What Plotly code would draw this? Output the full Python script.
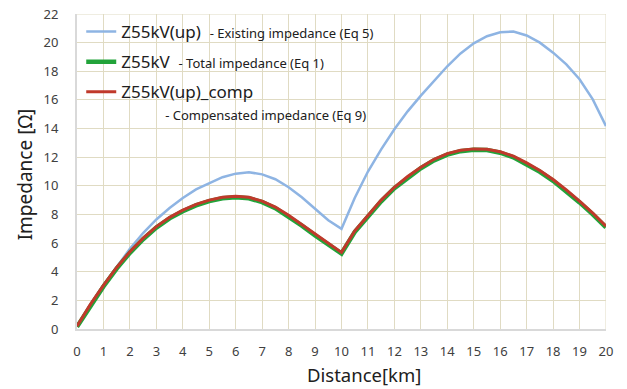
import plotly.graph_objects as go

distance_km = [0, 0.5, 1, 1.5, 2, 2.5, 3, 3.5, 4, 4.5, 5, 5.5, 6, 6.5, 7, 7.5, 8, 8.5, 9, 9.5, 10,
               10.5, 11, 11.5, 12, 12.5, 13, 13.5, 14, 14.5, 15, 15.5, 16, 16.5, 17, 17.5, 18, 18.5, 19, 19.5, 20]

z_existing = [0.2, 1.7, 3.05, 4.35, 5.6, 6.7, 7.65, 8.45, 9.15, 9.75, 10.2, 10.6, 10.85, 10.95, 10.8, 10.46,
              9.9, 9.2, 8.4, 7.6, 7.0,
              9.15, 11.0, 12.55, 13.95, 15.2, 16.3, 17.3, 18.35, 19.25, 19.95, 20.45, 20.72, 20.78, 20.5, 20.0,
              19.3, 18.48, 17.44, 16.04, 14.17]

z_total = [0.15, 1.62, 2.97, 4.22, 5.32, 6.27, 7.08, 7.73, 8.23, 8.63, 8.93, 9.13, 9.2, 9.13, 8.86, 8.44,
           7.87, 7.22, 6.54, 5.89, 5.27,
           6.77, 7.87, 8.92, 9.83, 10.58, 11.23, 11.78, 12.18, 12.42, 12.52, 12.5, 12.31, 11.99, 11.52, 10.98,
           10.35, 9.63, 8.84, 8.01, 7.1]

z_comp = [0.2, 1.7, 3.05, 4.3, 5.4, 6.35, 7.15, 7.8, 8.3, 8.7, 9.0, 9.2, 9.27, 9.2, 8.93, 8.52,
          7.95, 7.3, 6.62, 5.97, 5.35,
          6.85, 7.95, 9.0, 9.9, 10.65, 11.3, 11.85, 12.25, 12.48, 12.58, 12.56, 12.38, 12.07, 11.6, 11.07,
          10.44, 9.72, 8.93, 8.1, 7.18]

x_ticks = list(range(0, 21))
y_ticks = list(range(0, 23, 2))

x_title = "Distance[km]"
y_title = "Impedance [Ω]"

small = "<span style='font-size:13px'>"
names = [
    "Z55kV(up)\u00a0\u00a0" + small + "- Existing impedance (Eq 5)</span>",
    "Z55kV\u00a0\u00a0" + small + "- Total impedance (Eq 1)</span>",
    "Z55kV(up)_comp<br>" + small + "\u00a0" * 13 + "- Compensated impedance (Eq 9)</span>",
]

font_fam = "Noto Sans, Open Sans, sans-serif"
grid_col = "#e0dbc3"

fig = go.Figure()
fig.add_trace(go.Scatter(x=distance_km, y=z_existing, mode="lines", name=names[0],
                         line=dict(color="#8eb4e3", width=2.5),
                         legendgroup="a"))
fig.add_trace(go.Scatter(x=distance_km, y=z_total, mode="lines", name=names[1],
                         line=dict(color="#22a33a", width=4.5),
                         legendgroup="b"))
fig.add_trace(go.Scatter(x=distance_km, y=z_comp, mode="lines", name=names[2],
                         line=dict(color="#c0392b", width=3),
                         legendgroup="c"))

fig.update_layout(
    width=627, height=389,
    margin=dict(l=77, r=21, t=14, b=60, autoexpand=False),
    paper_bgcolor="white", plot_bgcolor="white",
    font=dict(family=font_fam, color="#404040", size=13),
    legend=dict(x=0.008, y=1.0, xanchor="left", yanchor="top", valign="top",
                font=dict(size=17, color="#202020", family=font_fam),
                bgcolor="rgba(0,0,0,0)", tracegroupgap=5, itemwidth=30),
    xaxis=dict(range=[0, 20], tickmode="array", tickvals=x_ticks, ticktext=[str(v) for v in x_ticks],
               showgrid=True, gridcolor=grid_col, gridwidth=1,
               showline=True, linecolor="#d9d9d9", linewidth=2,
               ticks="outside", ticklen=9, tickcolor="rgba(0,0,0,0)",
               zeroline=False, automargin=False),
    yaxis=dict(range=[0, 22], tickmode="array", tickvals=y_ticks, ticktext=[str(v) for v in y_ticks],
               showgrid=True, gridcolor=grid_col, gridwidth=1,
               showline=True, linecolor="#d9d9d9", linewidth=2,
               ticks="outside", ticklen=14, tickcolor="rgba(0,0,0,0)",
               zeroline=False, automargin=False),
)
fig.add_annotation(text=x_title, xref="paper", yref="paper", x=0.5425, y=-0.145,
                   xanchor="center", yanchor="middle", showarrow=False, borderpad=0,
                   font=dict(size=18.5, color="#202020", family=font_fam))
fig.add_annotation(text=y_title, xref="paper", yref="paper", x=-0.0983, y=0.491, textangle=-90,
                   xanchor="center", yanchor="middle", showarrow=False, borderpad=0,
                   font=dict(size=19, color="#202020", family=font_fam))
fig.add_shape(type="line", xref="x", yref="paper", x0=20, x1=20, y0=0, y1=1,
              line=dict(color=grid_col, width=1), layer="below")
fig.add_shape(type="line", xref="paper", yref="y", x0=0, x1=1, y0=22, y1=22,
              line=dict(color=grid_col, width=1), layer="below")

fig.write_html("out.html", config={"displayModeBar": False},
               post_script="document.body.style.margin='0';document.body.style.overflow='hidden';")
